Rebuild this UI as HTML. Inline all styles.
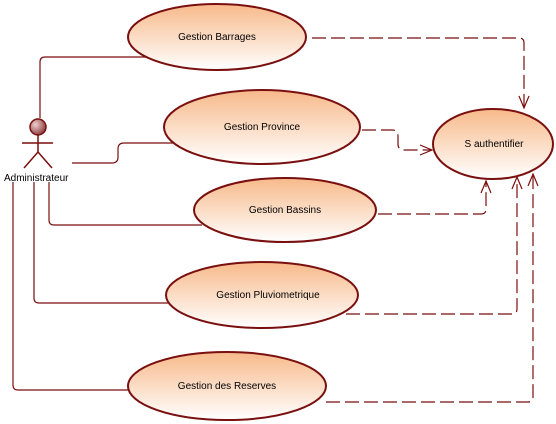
<!DOCTYPE html>
<html><head><meta charset="utf-8"><style>
html,body{margin:0;padding:0;background:#fff;width:556px;height:424px;overflow:hidden}
text{font-family:"Liberation Sans",sans-serif;font-size:10px;fill:#000}
</style></head><body>
<svg width="556" height="424" viewBox="0 0 556 424" xmlns="http://www.w3.org/2000/svg">
<defs>
<linearGradient id="g" x1="0" y1="0" x2="0" y2="1">
<stop offset="0" stop-color="#f7b98a"/><stop offset="1" stop-color="#ffffff"/>
</linearGradient>
<radialGradient id="h" cx="0.35" cy="0.35" r="0.7">
<stop offset="0" stop-color="#f0d0d0"/><stop offset="1" stop-color="#8a3a3a"/>
</radialGradient>
</defs>
<g stroke="#7a0f0f" stroke-width="1.2" fill="none">
<!-- actor links -->
<path d="M40,118 V62 Q40,57 45,57 H150"/>
<path d="M72,163 H112 Q118,163 118,157 V149 Q118,143 124,143 H176"/>
<path d="M49,182 V220 Q49,225 54,225 H202"/>
<path d="M34,182 V298 Q34,303 39,303 H170"/>
<path d="M13,182 V385 Q13,390 18,390 H132"/>
<!-- dashed includes -->
<g stroke-dasharray="14,5">
<path d="M312,38 H519 Q524,38 524,43 V108"/>
<path d="M362,130 H392 Q398,130 398,136 V144 Q398,150 404,150 H432"/>
<path d="M378,214 H481 Q486,214 486,209 V181"/>
<path d="M346,314 H512 Q517,314 517,309 V177"/>
<path d="M326,402 H528 Q533,402 533,397 V174"/>
</g>
<!-- arrowheads -->
<path d="M519,96 L524,108 L529,96"/>
<path d="M420,145 L432,150 L420,155"/>
<path d="M481,193 L486,181 L491,193"/>
<path d="M512,189 L517,177 L522,189"/>
<path d="M528,186 L533,174 L538,186"/>
</g>
<g stroke="#7a0f0f" stroke-width="2" fill="url(#g)">
<ellipse cx="217" cy="37" rx="89" ry="33"/>
<ellipse cx="262" cy="127" rx="98" ry="37"/>
<ellipse cx="285" cy="210" rx="91" ry="32"/>
<ellipse cx="262" cy="295" rx="96" ry="33"/>
<ellipse cx="227" cy="386" rx="99" ry="34"/>
<ellipse cx="493" cy="144" rx="60" ry="35"/>
</g>
<!-- actor -->
<g stroke="#7a0f0f" stroke-width="1.5">
<circle cx="38" cy="127" r="8" fill="url(#h)"/>
<line x1="38" y1="135" x2="38" y2="152"/>
<line x1="22" y1="143" x2="53" y2="143"/>
<line x1="38" y1="152" x2="24" y2="168"/>
<line x1="38" y1="152" x2="52" y2="168"/>
</g>
<text x="4" y="181">Administrateur</text>
<text x="217" y="40" text-anchor="middle">Gestion Barrages</text>
<text x="262" y="130" text-anchor="middle">Gestion Province</text>
<text x="285" y="213" text-anchor="middle">Gestion Bassins</text>
<text x="268" y="298" text-anchor="middle">Gestion Pluviometrique</text>
<text x="227" y="389" text-anchor="middle">Gestion des Reserves</text>
<text x="494" y="147" text-anchor="middle">S authentifier</text>
</svg>
</body></html>
